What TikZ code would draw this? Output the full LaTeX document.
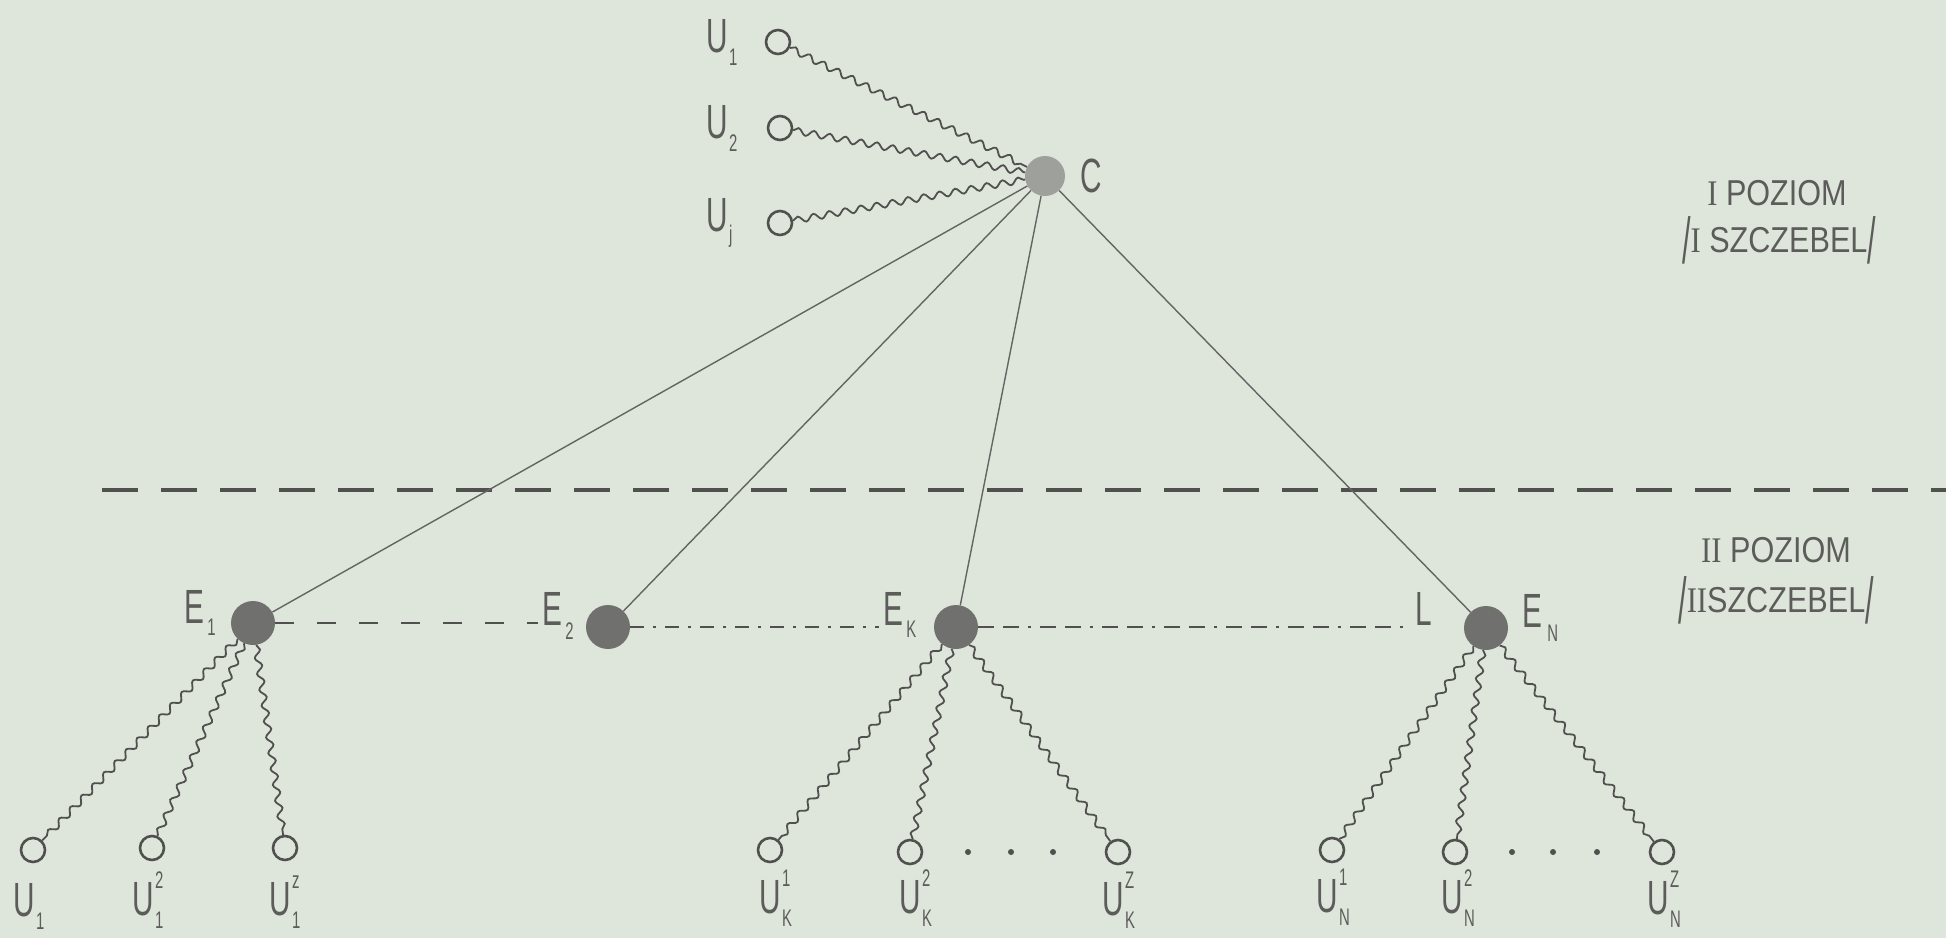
\documentclass[tikz,border=0pt]{standalone}
\usepackage{fontspec}
\usepackage{graphicx}
\setmainfont{Liberation Sans}
\newfontfamily\nar{Liberation Sans}[FakeStretch=0.62]
\newfontfamily\narr{Liberation Sans}[FakeStretch=0.85]
\newfontfamily\nserif{Liberation Serif}[FakeStretch=0.85]
\usetikzlibrary{decorations.pathmorphing}
\definecolor{bg}{RGB}{222,230,220}
\definecolor{ink}{RGB}{80,80,78}
\definecolor{linec}{RGB}{100,100,98}
\definecolor{ballC}{RGB}{158,160,156}
\definecolor{ballE}{RGB}{112,112,110}
\definecolor{txt}{RGB}{92,92,90}
\newcommand\ulab[5]{%
  \node[lbl] (#1) at (#2,#3) {U};
  \node[sml,anchor=south west] (#1p) at ([xshift=1pt,yshift=-7pt]#1.north east) {#4};
  \node[sml,anchor=west] (#1b) at ([xshift=1pt,yshift=-4pt]#1.south east) {#5};}
\newcommand\slsh{\raisebox{-0.3em}{\scalebox{1}[1.8]{/}}}
\begin{document}
\begin{tikzpicture}[x=1pt,y=-1pt,
  ballc/.style={circle,inner sep=0,minimum size=40pt,fill=ballC},
  balle/.style={circle,inner sep=0,minimum size=44pt,fill=ballE},
  user/.style={circle,draw=ink,line width=2.6pt,inner sep=0,minimum size=24pt},
  wave/.style={draw=ink,line width=1.8pt,decorate,decoration={snake,segment length=16pt,amplitude=3.2pt}},
  tie/.style={draw=linec,line width=1.4pt},
  lbl/.style={inner sep=0,text=txt,font=\nar\fontsize{48}{48}\selectfont},
  sml/.style={inner sep=0,text=txt,font=\nar\fontsize{24}{24}\selectfont},
  side/.style={inner sep=0,text=txt,font=\narr\fontsize{36}{36}\selectfont},
  dotn/.style={circle,fill=ink,inner sep=0,minimum size=6pt},
  elink/.style={draw=ink,line width=2pt}
]
\fill[bg] (0,0) rectangle (1946,938);
\useasboundingbox (0,0) rectangle (1946,938);

% level I
\node[ballc] (C) at (1045,176) {};
\node[lbl] (Clab) at (1091,176) {C};
\node[user] (U1) at (778,42) {};
\node[user] (U2) at (780,128) {};
\node[user] (Uj) at (780,223) {};
\ulab{lu1}{717}{36}{}{1}
\ulab{lu2}{717}{122}{}{2}
\ulab{luj}{717}{215}{}{j}
\draw[wave] (U1) -- (C);
\draw[wave] (U2) -- (C);
\draw[wave] (Uj) -- (C);

% side labels
\node[side] (p1) at (1777,193) {{\nserif I} POZIOM};
\node[side] (s1) at (1779,240) {\slsh{\nserif I} SZCZEBEL\slsh};
\node[side] (p2) at (1776,550) {{\nserif II} POZIOM};
\node[side] (s2) at (1776,600) {\slsh{\nserif II}SZCZEBEL\slsh};

% separator
\coordinate (dl) at (102,490);
\coordinate (dr) at (1946,490);
\draw[ink,line width=3.5pt,dash pattern=on 36pt off 23pt] (dl) -- (dr);

% level II nodes
\node[balle] (E1) at (253,623) {};
\node[balle] (E2) at (608,627) {};
\node[balle] (EK) at (956,627) {};
\node[balle] (EN) at (1486,628) {};
\node[lbl] (E1l) at (194,607) {E};
\node[sml,anchor=west] (E1s) at ([xshift=3pt,yshift=-4pt]E1l.south east) {1};
\node[lbl] (E2l) at (552,609) {E};
\node[sml,anchor=west] (E2s) at ([xshift=3pt,yshift=-5pt]E2l.south east) {2};
\node[lbl] (EKl) at (893,609) {E};
\node[sml,anchor=west] (EKs) at ([xshift=3pt,yshift=-4pt]EKl.south east) {K};
\node[lbl] (Ll) at (1424,609) {L};
\node[lbl] (ENl) at (1532,611) {E};
\node[sml,anchor=west] (ENs) at ([xshift=5pt,yshift=-6pt]ENl.south east) {N};

\draw[tie] (C) -- (E1);
\draw[tie] (C) -- (E2);
\draw[tie] (C) -- (EK);
\draw[tie] (C) -- (EN);

\draw[elink,dash pattern=on 19pt off 23pt] (E1.east) -- ([xshift=-4pt]E1.east -| E2l.west);
\draw[elink,dash pattern=on 14pt off 9pt on 3pt off 9pt] (E2.east) -- ([xshift=-4pt]E2.east -| EKl.west);
\draw[elink,dash pattern=on 16pt off 9pt on 16pt off 9pt on 3pt off 9pt] (EK.east) -- ([xshift=-6pt]EK.east -| Ll.west);

% bottom users
\node[user] (a1) at (33,850) {};
\node[user] (a2) at (152,848) {};
\node[user] (a3) at (285,848) {};
\node[user] (k1) at (770,850) {};
\node[user] (k2) at (910,852) {};
\node[user] (k3) at (1118,852) {};
\node[user] (n1) at (1332,850) {};
\node[user] (n2) at (1455,852) {};
\node[user] (n3) at (1662,852) {};
\foreach \s/\t in {E1/a1,E1/a2,E1/a3,EK/k1,EK/k2,EK/k3,EN/n1,EN/n2,EN/n3}
  \draw[wave] (\s) -- (\t);

\node[dotn] (dk1) at (968,852) {};
\node[dotn] (dk2) at (1011,852) {};
\node[dotn] (dk3) at (1053,852) {};
\node[dotn] (dn1) at (1512,852) {};
\node[dotn] (dn2) at (1553,852) {};
\node[dotn] (dn3) at (1597,852) {};

\ulab{la1}{24}{900}{}{1}
\ulab{la2}{143}{899}{2}{1}
\ulab{la3}{280}{899}{z}{1}
\ulab{lk1}{770}{897}{1}{K}
\ulab{lk2}{910}{897}{2}{K}
\ulab{lk3}{1113}{899}{Z}{K}
\ulab{ln1}{1327}{896}{1}{N}
\ulab{ln2}{1452}{897}{2}{N}
\ulab{ln3}{1658}{898}{Z}{N}
\end{tikzpicture}
\end{document}
